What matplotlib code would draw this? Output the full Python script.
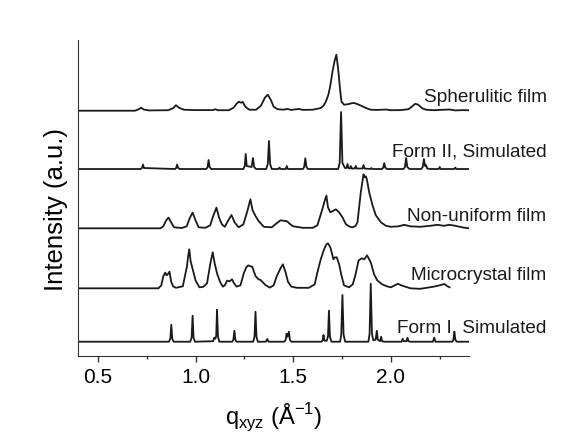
import matplotlib
matplotlib.use('Agg')
import matplotlib.pyplot as plt
import numpy as np
from matplotlib.ticker import MultipleLocator

plt.rcParams['font.family'] = ['Liberation Sans', 'DejaVu Sans']
plt.rcParams['mathtext.fontset'] = 'custom'
plt.rcParams['mathtext.rm'] = 'Liberation Sans'

# intensity in arbitrary units above each baseline
sph_q = [0.40, 0.69, 0.71, 0.722, 0.735, 0.76, 0.86, 0.885, 0.90, 0.915, 0.94, 1.0, 1.09, 1.10, 1.115, 1.17,
         1.195, 1.21, 1.222, 1.232, 1.242, 1.255, 1.275, 1.31, 1.335, 1.355, 1.37, 1.385, 1.40, 1.42, 1.45,
         1.47, 1.49, 1.53, 1.55, 1.60, 1.625, 1.641, 1.655, 1.667, 1.68, 1.689, 1.701, 1.712, 1.721, 1.73,
         1.74, 1.747, 1.76, 1.78, 1.80, 1.812, 1.83, 1.855, 1.875, 1.896, 1.93, 1.975, 2.0, 2.05, 2.09, 2.11,
         2.125, 2.14, 2.16, 2.18, 2.22, 2.27, 2.30, 2.33, 2.37, 2.40]
sph_i = [0, 0, 1.5, 3, 1.2, 0.3, 0.5, 2.5, 5.5, 3, 1, 0.6, 0.6, 1.5, 0.5, 0.5,
         3, 7, 9, 8, 8.8, 4, 1, 1, 5, 13, 16, 11, 4, 1.5, 1,
         1.8, 0.8, 1.8, 0.8, 1, 2, 2.7, 5, 9, 16, 24, 39, 50, 56, 42,
         21, 9.3, 6, 6.5, 7.5, 7.7, 6.5, 4.3, 2.5, 1, 0.8, 1.2, 0.5, 0.6, 1.5, 4.5,
         7, 6, 2.5, 1, 0.5, 1, 1.2, 0.3, 0.6, 0.4]

f2_q = [0.40, 0.72, 0.726, 0.731, 0.736, 0.895, 0.901, 0.906, 0.911, 0.92, 1.055, 1.062, 1.067, 1.072, 1.08,
        1.245, 1.252, 1.257, 1.262, 1.287, 1.294, 1.30, 1.31, 1.362, 1.37, 1.376, 1.382, 1.39, 1.425, 1.43,
        1.435, 1.462, 1.467, 1.472, 1.55, 1.556, 1.562, 1.568, 1.575, 1.73, 1.738, 1.745, 1.752, 1.765, 1.773,
        1.778, 1.783, 1.79, 1.795, 1.80, 1.815, 1.82, 1.825, 1.855, 1.86, 1.865, 1.895, 1.90, 1.905, 1.955,
        1.961, 1.966, 1.971, 1.98, 2.065, 2.072, 2.078, 2.084, 2.095, 2.155, 2.163, 2.169, 2.175, 2.18, 2.186,
        2.20, 2.245, 2.25, 2.255, 2.325, 2.33, 2.335, 2.40]
f2_i = [0, 0, 1, 4.5, 1, 0, 1, 4.5, 1, 0, 0, 2, 9, 2, 0,
        0, 3, 15, 3, 2, 11, 2, 0, 0, 5, 28, 5, 0, 0, 1.5,
        0, 0, 3, 0, 0, 2, 10.7, 2, 0, 0, 6, 57, 6, 1, 1,
        5, 1, 0.5, 3, 0.5, 0.5, 3, 0.5, 0.5, 4, 0.5, 0, 1, 0, 0,
        1.5, 6, 1.5, 0, 0, 2, 11, 2, 0, 0, 2, 10, 3, 4, 0.5,
        0, 0, 2, 0, 0, 1.5, 0, 0]

nu_q = [0.40, 0.82, 0.835, 0.85, 0.862, 0.875, 0.89, 0.93, 0.955, 0.97, 0.985, 1.0, 1.016, 1.05, 1.075, 1.09,
        1.107, 1.12, 1.135, 1.15, 1.165, 1.184, 1.2, 1.221, 1.245, 1.265, 1.281, 1.292, 1.307, 1.324, 1.35,
        1.39, 1.415, 1.435, 1.455, 1.469, 1.485, 1.50, 1.55, 1.60, 1.624, 1.649, 1.662, 1.670, 1.678, 1.69,
        1.705, 1.718, 1.735, 1.752, 1.77, 1.79, 1.804, 1.82, 1.829, 1.846, 1.86, 1.866, 1.872, 1.877, 1.889,
        1.906, 1.923, 1.949, 1.975, 2.0, 2.04, 2.068, 2.10, 2.15, 2.2, 2.24, 2.27, 2.30, 2.33, 2.37, 2.40]
nu_i = [0, 0, 2, 8, 10.7, 6, 1, 0.3, 2, 10, 15.7, 8, 1, 0.5, 3, 12,
        20.7, 11, 4, 1.5, 7, 13.3, 6, 1, 4, 17, 29, 18, 12.3, 7, 1.5,
        1, 5, 8, 7.5, 7, 4, 2, 0.5, 0.5, 3, 19, 28, 32.7, 21, 16,
        17.5, 19, 16, 11, 4, 1.5, 1, 2.5, 6, 36, 54, 51, 52, 49, 36,
        23, 13, 6, 2.5, 1.5, 2, 3.5, 2, 1.5, 2.5, 3.5, 2.5, 3.5, 2.5, 0.8, 0]

mc_q = [0.40, 0.81, 0.825, 0.835, 0.845, 0.852, 0.858, 0.867, 0.875, 0.885, 0.90, 0.935, 0.956, 0.962, 0.968,
        0.975, 0.987, 1.0, 1.02, 1.04, 1.059, 1.076, 1.088, 1.098, 1.11, 1.125, 1.14, 1.15, 1.162, 1.175,
        1.187, 1.197, 1.21, 1.23, 1.247, 1.26, 1.27, 1.28, 1.29, 1.307, 1.322, 1.333, 1.358, 1.38, 1.40,
        1.415, 1.435, 1.447, 1.46, 1.473, 1.49, 1.52, 1.58, 1.61, 1.624, 1.641, 1.658, 1.67, 1.678, 1.69,
        1.706, 1.714, 1.723, 1.735, 1.747, 1.76, 1.786, 1.805, 1.818, 1.835, 1.852, 1.864, 1.878, 1.897,
        1.914, 1.93, 1.955, 1.98, 2.0, 2.035, 2.06, 2.1, 2.15, 2.2, 2.22, 2.25, 2.274, 2.29, 2.30]
mc_i = [0, 0, 3, 12, 15.7, 13, 14, 16.7, 7, 2, 0.5, 2, 21.7, 32, 39,
        27, 18, 8, 1, 1.5, 5, 25, 36, 25, 15, 6.7, 1.7, 3, 7.7, 7,
        9, 5, 1.7, 3, 15, 21, 23, 22, 21.7, 12.3, 9, 8.3, 3.3, 0.7, 3,
        11.7, 20, 24, 16.7, 6.7, 1.7, 0.5, 0.5, 4, 16, 29, 39, 44, 45, 41,
        29, 31, 31, 24, 13, 3, 1, 4, 13, 28, 30, 29, 33, 26,
        14, 8, 4, 2, 1, 4.5, 2.5, 0, -0.5, 1, 1.7, 3, 4.3, 2, 1]

f1_q = [0.40, 0.864, 0.871, 0.876, 0.881, 0.888, 0.973, 0.98, 0.985, 0.99, 0.997, 1.09, 1.096, 1.102, 1.106,
        1.110, 1.115, 1.122, 1.188, 1.194, 1.199, 1.204, 1.21, 1.295, 1.302, 1.307, 1.312, 1.319, 1.36, 1.367,
        1.374, 1.455, 1.462, 1.466, 1.471, 1.478, 1.483, 1.49, 1.645, 1.651, 1.655, 1.66, 1.672, 1.678, 1.683,
        1.688, 1.696, 1.74, 1.746, 1.752, 1.758, 1.766, 1.885, 1.891, 1.897, 1.903, 1.91, 1.922, 1.928, 1.933,
        1.945, 1.95, 1.955, 1.965, 2.055, 2.06, 2.066, 2.08, 2.085, 2.09, 2.10, 2.215, 2.222, 2.228, 2.315,
        2.32, 2.325, 2.33, 2.337, 2.40]
f1_i = [0, 0, 3, 17, 3, 0, 0, 4, 26, 4, 0, 0.5, 4, 3, 6,
        32, 5, 0, 0, 2, 11, 2, 0, 0, 5, 30, 5, 0, 0, 2.7,
        0, 0, 2, 8, 5, 10, 2, 0, 0, 1.5, 6.7, 1, 1, 5, 31,
        5, 0, 0, 7, 46.7, 7, 0, 0, 8, 58, 8, 1.5, 2, 11, 2,
        0.5, 5, 0.5, 0, 0, 3, 0.5, 0.5, 4, 0.5, 0, 0, 4, 0, 0,
        2, 10, 2, 0, 0]

names = ['Spherulitic film', 'Form II, Simulated', 'Non-uniform film', 'Microcrystal film', 'Form I, Simulated']
qs = [sph_q, f2_q, nu_q, mc_q, f1_q]
ints = [sph_i, f2_i, nu_i, mc_i, f1_i]
offsets = [245.6, 187.3, 128, 68, 14.6]
label_y = [101.7, 156.7, 220.7, 280, 332.7]  # text baselines, pixels from top

fig = plt.figure(figsize=(5.67, 4.35), dpi=100)
ax = fig.add_axes([0.1381, 0.1786, 0.6891, 0.7278])

for q, I, off in zip(qs, ints, offsets):
    ax.plot(q, np.array(I) + off, color='#1a1a1a', lw=1.3)

for n, yb in zip(names, label_y):
    fig.text(546.5/567, 1 - yb/435, n, ha='right', va='baseline', fontsize=13.7, color='#1a1a1a')

ax.set_xlim(0.4, 2.4)
ax.set_ylim(0, 316.6)
ax.spines['top'].set_visible(False)
ax.spines['right'].set_visible(False)
ax.spines['left'].set_color('#333333')
ax.spines['bottom'].set_color('#333333')
ax.set_yticks([])
ax.xaxis.set_major_locator(MultipleLocator(0.5))
ax.xaxis.set_minor_locator(MultipleLocator(0.25))
ax.tick_params(axis='x', which='major', direction='out', length=4, width=1, labelsize=15, pad=4, color='#333333')
ax.tick_params(axis='x', which='minor', direction='out', length=2.3, width=1, color='#333333')

ax.set_xlabel(r'q$_\mathregular{xyz}$ (Å$^\mathregular{-1}$)', fontsize=17, labelpad=10)
ax.set_ylabel('Intensity (a.u.)', fontsize=18.5)
ax.yaxis.set_label_coords(-0.027, 0.468)

fig.savefig('out.png', dpi=100, facecolor='white')
